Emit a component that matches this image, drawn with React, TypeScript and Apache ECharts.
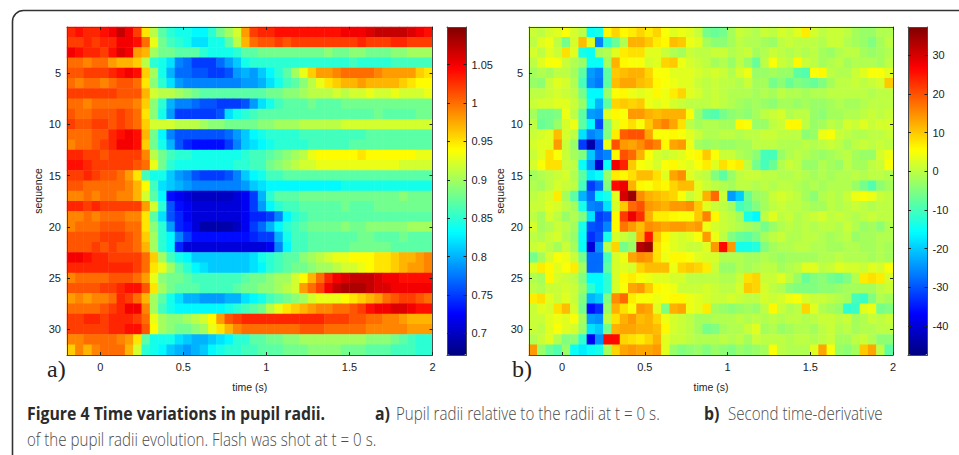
import React, { useEffect, useRef } from "react";
import * as echarts from "echarts";

const timeBins = [
  "-0.175","-0.125","-0.075","-0.025","0.025","0.075","0.125","0.175","0.225","0.275","0.325",
  "0.375","0.425","0.475","0.525","0.575","0.625","0.675","0.725","0.775","0.825","0.875",
  "0.925","0.975","1.025","1.075","1.125","1.175","1.225","1.275","1.325","1.375","1.425",
  "1.475","1.525","1.575","1.625","1.675","1.725","1.775","1.825","1.875","1.925","1.975",
];
const timeTicks = [0, 0.5, 1, 1.5, 2];
const seqTicks = [5, 10, 15, 20, 25, 30];
const radiiTicks = [0.7, 0.75, 0.8, 0.85, 0.9, 0.95, 1, 1.05];
const derivTicks = [-40, -30, -20, -10, 0, 10, 20, 30];
const jet = ["#000080","#0000ff","#0080ff","#00ffff","#80ff80","#ffff00","#ff8000","#ff0000","#800000"];

// pupil radius, percent of the radius at t = 0, one row per sequence
const radii = [
[103,104,103,103,104,105,107,105,102,95,91, 87,85,84,84,83,83,85,88,90,92,98, 102,103,103,104,104,104,104,104,104,104,104, 105,105,105,106,107,107,107,107,106,105,104],
[102,102,103,102,103,103,105,105,104,100,93, 88,86,85,84,82,82,84,84,87,91,97, 100,101,101,102,101,102,102,102,102,102,102, 102,102,103,102,102,102,103,103,102,102,102],
[105,104,103,103,102,104,106,105,98,97,90, 88,88,87,87,87,85,84,84,84,85,87, 87,88,88,88,88,88,88,88,88,89,88, 88,89,89,88,88,88,89,89,90,90,90],
[100,100,99,100,100,98,97,97,96,91,85, 84,82,78,77,75,75,75,77,79,81,84, 85,85,85,85,85,85,85,85,85,85,85, 85,86,85,85,85,85,86,86,86,86,86],
[101,101,102,102,102,103,104,105,104,96,90, 84,80,77,77,76,76,75,75,76,79,80, 79,81,83,85,87,90,93,96,98,98,99, 100,100,100,100,99,98,98,98,98,96,95],
[100,99,100,100,99,100,101,101,100,95,89, 85,82,79,78,78,78,78,78,78,78,79, 79,80,82,84,86,87,89,91,93,95,96, 97,97,98,97,97,97,97,96,95,94,94],
[102,102,102,102,102,102,101,101,101,97,92, 91,91,90,89,88,87,87,87,87,87,87, 87,87,88,88,89,89,90,91,91,91,92, 91,92,92,93,92,92,93,92,92,92,93],
[100,100,99,100,100,100,100,100,99,96,89, 85,80,78,78,77,76,76,75,75,75,76, 79,82,84,86,87,87,87,88,87,87,87, 88,88,88,88,88,88,88,88,88,88,88],
[101,100,100,101,101,101,102,101,100,95,89, 84,79,75,75,75,75,75,76,82,84,85, 86,87,87,87,87,87,87,87,87,87,87, 87,87,87,87,88,87,87,87,87,88,88],
[102,101,101,102,102,101,102,101,100,96,92, 92,92,91,91,91,90,89,89,88,88,88, 88,89,89,90,90,90,91,91,91,91,91, 92,92,92,92,92,92,92,92,92,92,92],
[100,100,100,101,101,103,104,105,104,97,88, 83,78,76,76,76,76,76,76,77,79,81, 83,84,85,85,85,85,86,86,86,86,86, 86,86,86,87,87,87,87,87,87,87,87],
[99,100,100,101,102,103,105,105,104,96,88, 84,80,76,74,73,73,73,73,75,78,81, 82,83,84,85,85,85,85,86,86,86,86, 86,87,87,87,87,87,87,87,87,87,87],
[103,103,102,102,101,102,102,102,102,99,91, 88,86,85,85,84,84,84,84,84,84,85, 86,86,87,88,89,90,91,93,94,94,94, 94,94,95,94,94,94,94,94,94,93,93],
[104,104,103,102,102,102,102,102,101,100,93, 88,85,84,84,84,84,84,84,84,85,85, 86,86,88,89,90,91,92,92,93,93,93, 93,93,93,93,93,93,93,92,92,92,92],
[102,102,103,102,101,101,100,98,95,86,84, 84,81,79,78,76,75,75,75,76,78,81, 83,84,86,86,87,87,87,87,87,87,87, 87,87,87,87,87,87,87,87,87,87,87],
[101,101,100,100,100,100,100,99,97,94,86, 82,81,80,79,78,78,78,78,78,78,79, 81,82,83,83,83,83,83,83,83,83,83, 84,84,84,84,84,84,84,84,84,84,84],
[99,99,100,99,100,100,99,99,97,92,87, 83,73,72,71,70,70,70,70,70,71,72, 75,80,85,87,87,87,88,88,88,88,88, 88,88,88,88,88,88,88,89,88,88,88],
[103,103,102,103,102,102,102,102,102,98,92, 85,76,73,72,71,71,71,71,71,71,72, 75,79,83,85,86,86,87,87,87,87,87, 88,87,87,87,88,88,88,88,88,88,88],
[99,99,100,99,100,100,100,99,99,95,87, 82,76,74,72,71,71,71,71,71,71,72, 74,74,75,78,83,85,86,87,87,87,87, 87,87,87,87,87,87,87,87,87,87,87],
[99,100,100,100,101,101,101,100,100,95,89, 85,79,74,73,71,69,69,69,69,70,72, 75,77,80,83,85,86,87,88,88,88,88, 89,88,88,89,89,89,89,89,90,90,90],
[101,101,101,101,102,102,102,101,100,96,90, 85,83,78,75,73,73,73,73,73,73,73, 74,75,75,80,84,86,86,87,87,87,87, 87,87,88,88,87,87,87,88,87,87,87],
[101,101,101,102,101,102,101,101,100,97,90, 85,83,74,71,71,71,71,71,71,71,71, 71,71,72,78,83,86,86,87,87,87,87, 87,88,88,88,88,88,87,87,87,87,87],
[105,105,104,103,103,102,102,102,102,100,96, 90,86,84,83,81,81,81,81,81,81,81, 82,84,85,86,87,87,89,90,91,92,93, 93,94,94,94,95,95,96,97,97,98,99],
[103,103,103,103,103,103,103,103,102,100,95, 93,90,87,85,83,82,81,81,81,81,81, 82,83,85,86,87,88,88,89,90,90,91, 92,92,93,94,95,95,96,97,98,98,99],
[99,100,100,100,100,101,101,101,100,98,93, 89,88,88,87,86,86,86,86,86,86,87, 88,88,89,90,90,92,94,97,100,103,105, 106,107,107,107,106,105,105,104,104,104,104],
[101,101,101,101,102,102,103,104,104,101,95, 90,88,87,87,87,86,86,86,86,87,88, 88,89,89,90,91,92,98,100,102,105,107, 108,108,108,107,106,106,105,105,105,105,105],
[98,99,98,99,99,100,103,102,100,97,90, 87,84,82,80,80,79,79,79,80,80,82, 83,84,86,87,88,89,90,92,93,93,93, 94,95,96,97,98,100,101,102,102,101,100],
[100,100,100,100,101,102,103,105,105,99,90, 86,84,83,83,83,83,83,83,84,85,86, 87,88,91,93,95,96,97,98,99,99,100, 100,101,102,104,105,105,106,106,105,104,104],
[102,102,103,103,102,103,103,103,102,100,93, 90,89,89,90,91,92,94,98,101,102,103, 103,103,103,103,103,103,103,103,103,102,102, 102,101,101,100,100,99,99,98,97,97,97],
[102,102,102,102,102,103,103,104,104,101,94, 90,89,88,88,89,90,93,95,97,99,100, 100,100,100,100,100,100,101,101,101,100,100, 100,100,100,99,99,99,99,99,98,98,98],
[99,99,100,100,100,100,99,98,95,87,84, 84,84,82,81,80,80,81,82,83,85,85, 87,87,88,88,89,89,90,90,90,90,90, 90,90,90,89,89,89,88,87,86,85,85],
[96,99,97,99,100,100,100,97,92,85,84, 83,81,80,79,80,81,83,84,85,85,86, 86,87,87,87,88,88,88,89,89,89,89, 88,88,88,87,87,87,86,86,86,85,85],
];

// second time-derivative of the radius, one row per sequence
const deriv = [
[1,0,2,3,5,2,0,-15,-14,6,9, 6,7,9,7,9,5,3,4,3,1,-6, -7,-6,-2,1,0,-1,1,0,2,1,3, 7,2,0,1,1,0,-2,-3,-3,-1,-1],
[0,3,4,0,-6,2,11,3,-26,-12,-7, -1,12,12,10,7,6,11,10,4,3,-2, -4,-4,-2,0,-1,-1,-2,-3,0,1,0, 0,0,-1,1,1,-1,-2,-3,-5,-2,0],
[2,0,3,1,8,3,-14,-15,-2,-1,3, 7,8,8,3,3,1,-1,-2,1,0,0, 1,1,-1,0,1,-2,-1,1,0,-1,0, -1,0,-2,-3,-1,0,0,-2,-3,-2,-1],
[0,3,5,5,1,-1,-3,-15,-15,-2,12, 6,5,5,2,3,9,10,4,2,1,0, -2,-1,-3,0,-3,-7,0,5,1,0,6, 1,0,-2,-1,0,-2,-1,-1,-1,-2,0],
[-2,-1,-2,0,0,-2,-8,-24,-26,-8,10, 11,12,12,9,5,5,3,3,3,2,1, 2,1,-1,2,4,-3,-3,-2,-3,-3,-8, -9,5,6,0,-1,-1,1,3,5,5,3],
[-3,-4,1,3,2,-1,-10,-25,-27,-8,11, 13,13,11,10,6,5,4,3,3,1,0, 1,0,0,-1,1,-2,-2,-6,-4,-7,-5, -6,-7,-5,-2,0,0,1,0,1,2,10],
[0,0,1,2,1,0,-6,-16,-16,-3,5, 6,4,3,4,6,4,7,9,3,2,0, 1,0,-1,-1,-1,-2,-1,-2,0,-1,-1, -2,-1,-1,0,0,0,0,0,-1,0,0],
[1,2,2,3,3,1,-3,-15,-22,-8,9, 10,9,10,4,3,4,2,1,0,0,0, 1,0,-1,-2,-3,-2,-3,-4,-2,-2,-3, -2,-3,-3,-2,-1,-2,-2,-1,0,0,0],
[-2,-6,-6,-5,4,0,-8,-24,-25,3,6, 5,14,14,12,11,12,12,12,5,-3,-8, -9,-6,-4,-3,-4,-2,0,1,2,-1,0, 0,-3,-4,-2,-2,-1,-1,0,1,0,1],
[0,-7,-6,-3,2,4,-8,-16,-31,-5,3, 6,8,5,10,14,16,13,8,0,-2,-1, -1,-2,-2,6,5,-3,-3,0,1,6,6, 0,-3,-2,0,-1,2,1,3,1,2,2],
[1,2,3,11,2,0,-18,-26,-24,-5,7, 19,20,20,13,5,5,6,5,3,1,-1, -1,0,0,-1,0,0,1,1,0,0,0, -4,-3,4,5,1,0,-1,-1,0,0,1],
[2,3,3,14,1,-3,-32,-44,-30,4,20, 14,13,15,18,16,6,13,14,4,-2,-3, -2,-3,-3,-2,-2,0,0,0,-1,-1,-1, 0,-1,0,1,0,-2,0,1,0,1,0],
[1,3,8,5,1,-2,-5,-20,-28,-26,6, 20,18,12,5,2,1,2,3,5,6,10, 5,1,1,-1,-2,-4,-10,-10,-3,-1,0, -1,-2,-3,-2,-1,0,-2,-3,-3,2,4],
[2,5,8,8,1,0,-15,-24,-41,-15,28, 24,10,5,4,2,5,6,4,3,5,7, 3,8,6,7,0,-6,-10,-7,-1,1,0, -3,-3,-1,-2,-3,0,-2,-2,0,1,5],
[-2,-1,0,1,2,-1,-8,-17,-15,-3,7, 6,8,11,11,8,3,13,15,3,1,0, -5,-8,-3,0,1,1,0,0,-1,-1,0, -1,-2,-1,-2,-1,-1,0,-1,0,0,-1],
[-1,-2,0,2,1,0,-10,-32,-28,-5,26, 28,12,6,5,7,6,9,11,11,3,1, 0,-1,-2,0,0,-1,0,-1,0,0,-1, -2,-1,-2,-1,-1,-1,-3,-6,-9,-4,-2],
[0,1,2,7,-2,-8,-22,-28,-16,-14,3, 30,35,15,12,11,10,9,5,1,3,12, 18,1,-24,-20,-7,-3,-2,1,2,1,0, -2,-4,-1,0,-1,1,4,5,4,1,0],
[1,1,3,2,0,-2,-14,-26,-27,-18,2, 10,18,20,14,13,12,14,14,15,10,3, 1,0,-2,-10,-8,-5,-2,0,1,0,0, -1,-2,-2,0,-1,0,1,0,-1,0,0],
[0,-2,2,0,-3,-1,-5,-18,-32,-30,6, 22,28,23,12,7,7,6,5,5,10,16, 6,1,0,-2,-14,-16,0,3,0,1,-1, 0,1,2,0,1,0,-1,0,1,0,0],
[2,-2,-1,1,0,-2,-14,-30,-31,-26,6, 17,14,11,15,14,13,14,14,13,14,4, 2,1,0,-1,-2,-3,-6,-3,-1,0,-1, 0,-1,0,0,-1,1,-1,-3,-2,-4,-1],
[0,-1,1,2,-1,-3,-15,-33,-30,-14,2, 1,-1,12,25,10,6,3,2,3,5,14, 4,0,-5,-7,-8,-6,-2,0,1,-1,-1, 0,0,-1,-2,-1,0,-3,-2,-2,-1,-1],
[1,2,0,-2,1,-2,-15,-40,-25,0,9, -6,-3,33,35,8,5,3,2,1,1,3, 14,26,14,-14,-14,-13,-5,-2,-1,-1,0, 0,-1,-1,-2,-2,-1,-1,-2,-2,-1,-2],
[-6,-2,2,5,4,1,-6,-28,-28,-10,2, 4,13,15,14,8,4,6,6,5,3,2, 2,-1,-1,-1,-2,-2,-1,-2,-3,-2,-2, -2,-2,-1,-1,0,-1,-1,-1,-2,-1,-2],
[3,7,6,3,5,7,-2,-28,-28,-8,2, 3,2,9,11,11,11,4,9,10,9,7, 1,-3,-3,-1,-2,-1,0,0,-2,-1,0, 3,3,0,1,3,2,2,1,3,2,5],
[-1,-2,6,2,1,0,-5,-16,-16,-12,2, 6,7,5,4,3,3,2,2,0,0,0, 0,-1,-1,1,8,9,1,1,3,0,-3, -7,-5,-4,-6,-7,-5,-1,7,8,7,2],
[0,-1,1,1,2,1,-3,-12,-16,-12,2, 5,13,14,10,6,5,4,1,1,1,2, 1,0,0,2,10,9,2,0,-1,-4,-5, -5,-5,-4,-4,-3,-2,-2,-2,-2,0,1],
[7,8,3,1,3,1,-5,-22,-20,-5,15, 18,7,5,5,4,5,6,6,4,3,2, 1,1,2,1,0,0,2,1,2,4,5, 2,1,1,0,-1,-2,-10,-11,-5,-1,-2],
[1,3,2,8,11,2,-6,-36,-33,-3,12, 8,5,14,13,3,-5,12,13,4,3,7, -2,-3,-4,-3,-2,-3,0,6,1,-1,0, 9,3,-1,-2,-3,-12,-11,3,4,-6,-5],
[1,1,3,4,3,5,-2,-24,-25,0,8, 12,14,11,12,9,4,2,1,0,-2,-2, -1,-1,-1,0,-1,0,-1,0,-1,0,0, -1,0,1,1,0,1,-2,-1,1,0,1],
[1,0,3,5,3,2,-3,-18,-20,-6,12, 13,13,12,12,11,6,2,1,0,-2,-6, -5,-2,-1,-1,1,3,-2,-1,-3,-2,-1, -1,-2,0,1,-1,0,-2,-1,-1,0,0],
[-1,1,3,-1,-5,-4,-12,-38,-25,26,26, 9,8,7,9,12,3,1,1,0,-1,-1, -1,0,-1,0,-2,1,0,0,0,-1,0, 0,-1,0,1,-2,-2,0,1,-1,-4,-4],
[14,-3,-7,-9,-3,-15,-17,-15,-14,-2,9, 13,14,13,13,14,3,-3,-5,-4,-3,-5, -3,-4,-5,-3,-4,-3,-2,5,0,-1,-1, -1,3,13,5,-3,-4,-2,10,13,0,-8],
];

const AXIS = "#4a4a4a";
const TXT = "#222";
const FONT = "Liberation Sans";
const TOP = 27;
const H = 328;

function cells(rows: number[][], k: number) {
  const out: number[][] = [];
  rows.forEach((r, y) => r.forEach((v, x) => out.push([x, y, v / k])));
  return out;
}

function App() {
  const ref = useRef<HTMLDivElement>(null);
  useEffect(() => {
    const chart = echarts.init(ref.current!, undefined, { renderer: "svg" });
    const grid: any[] = [], xAxis: any[] = [], yAxis: any[] = [], series: any[] = [], visualMap: any[] = [];
    const line = { show: true, onZero: false, lineStyle: { color: AXIS, width: 1 } };
    const tick = (vals: number[] | null) =>
      vals ? { show: true, inside: true, length: 3, customValues: vals, lineStyle: { color: "#222", width: 1 } } : { show: false };
    const label = (vals: number[] | null, margin = 7) =>
      vals ? { show: true, customValues: vals, color: TXT, fontFamily: FONT, fontSize: 11, margin } : { show: false };
    const panel = (left: number, width: number, barLeft: number, rows: number[][], k: number, lo: number, hi: number, ticks: number[]) => {
      const g = grid.length;
      grid.push({ left, top: TOP, width, height: H });
      xAxis.push({ type: "category", gridIndex: g, data: timeBins, show: false });
      yAxis.push({ type: "category", gridIndex: g, data: rows.map((_, i) => String(i + 1)), inverse: true, show: false });
      visualMap.push({
        type: "continuous", min: lo, max: hi, dimension: 2, seriesIndex: series.length, inRange: { color: jet },
        left: barLeft, top: TOP, itemWidth: 19.5, itemHeight: H, padding: 0, showLabel: false, calculable: false, hoverLink: false, text: undefined,
      });
      series.push({ type: "heatmap", xAxisIndex: xAxis.length - 1, yAxisIndex: yAxis.length - 1, data: cells(rows, k), silent: true, progressive: 0 });
      // box and ticks of the image
      const b = grid.length;
      grid.push({ left, top: TOP, width, height: H });
      const xv = { type: "value", gridIndex: b, min: -0.2, max: 2, splitLine: { show: false }, axisLine: line, z: 6 };
      xAxis.push({ ...xv, position: "bottom", axisTick: tick(timeTicks), axisLabel: label(timeTicks, 6), name: "time (s)", nameLocation: "middle", nameGap: 26, nameTextStyle: { color: TXT, fontFamily: FONT, fontSize: 10.5 } });
      xAxis.push({ ...xv, position: "top", axisTick: tick(timeTicks), axisLabel: { show: false } });
      const yv = { type: "value", gridIndex: b, min: 0.5, max: 32.5, inverse: true, splitLine: { show: false }, axisLine: line, z: 6 };
      yAxis.push({ ...yv, position: "left", axisTick: tick(seqTicks), axisLabel: label(seqTicks, 6), name: "sequence", nameLocation: "middle", nameGap: 24, nameTextStyle: { color: TXT, fontFamily: FONT, fontSize: 10.5 } });
      yAxis.push({ ...yv, position: "right", axisTick: tick(seqTicks), axisLabel: { show: false } });
      // box and ticks of the colour bar
      const c = grid.length;
      grid.push({ left: barLeft, top: TOP, width: 19.5, height: H });
      const xc = { type: "value", gridIndex: c, min: 0, max: 1, splitLine: { show: false }, axisLine: line, axisTick: { show: false }, axisLabel: { show: false }, z: 6 };
      xAxis.push({ ...xc, position: "bottom" });
      xAxis.push({ ...xc, position: "top" });
      const yc = { type: "value", gridIndex: c, min: lo, max: hi, splitLine: { show: false }, axisLine: line, z: 6 };
      yAxis.push({ ...yc, position: "right", axisTick: tick(ticks), axisLabel: label(ticks, 5) });
      yAxis.push({ ...yc, position: "left", axisTick: tick(ticks), axisLabel: { show: false } });
    };
    panel(67, 365.5, 447, radii, 100, 0.672, 1.099, radiiTicks);
    panel(529, 364, 908, deriv, 1, -47.5, 37.3, derivTicks);

    const cap = (text: string, x: number, y: number, bold: boolean, scaleX: number) => ({
      type: "text", x, y, scaleX, silent: true, z: 10,
      style: { text, fontFamily: "Open Sans", fontSize: 18, fontWeight: bold ? 700 : 300, fill: bold ? "#2b2b2b" : "#4a4a4a", textVerticalAlign: "middle" },
    });
    chart.setOption({
      animation: false,
      backgroundColor: "#fff",
      grid, xAxis, yAxis, series, visualMap,
      graphic: [
        { type: "rect", shape: { x: 12.5, y: 10.5, width: 1100, height: 600, r: 11 }, style: { fill: "none", stroke: "#333", lineWidth: 1.6 }, silent: true },
        { type: "text", x: 47, y: 369, style: { text: "a)", fontFamily: "Liberation Serif", fontSize: 24, fill: "#222", textVerticalAlign: "middle" } },
        { type: "text", x: 512, y: 369, style: { text: "b)", fontFamily: "Liberation Serif", fontSize: 24, fill: "#222", textVerticalAlign: "middle" } },
        cap("Figure 4 Time variations in pupil radii.", 27, 413, true, 0.88),
        cap("a)", 375, 413, true, 0.88),
        cap("Pupil radii relative to the radii at t = 0 s.", 396, 413, false, 0.84),
        cap("b)", 704, 413, true, 0.88),
        cap("Second time-derivative", 728, 413, false, 0.84),
        cap("of the pupil radii evolution. Flash was shot at t = 0 s.", 27, 439, false, 0.84),
      ],
    });
    return () => chart.dispose();
  }, []);
  return <div ref={ref} style={{ position: "absolute", left: 0, top: 0, width: 959, height: 455 }} />;
}

export default App;
